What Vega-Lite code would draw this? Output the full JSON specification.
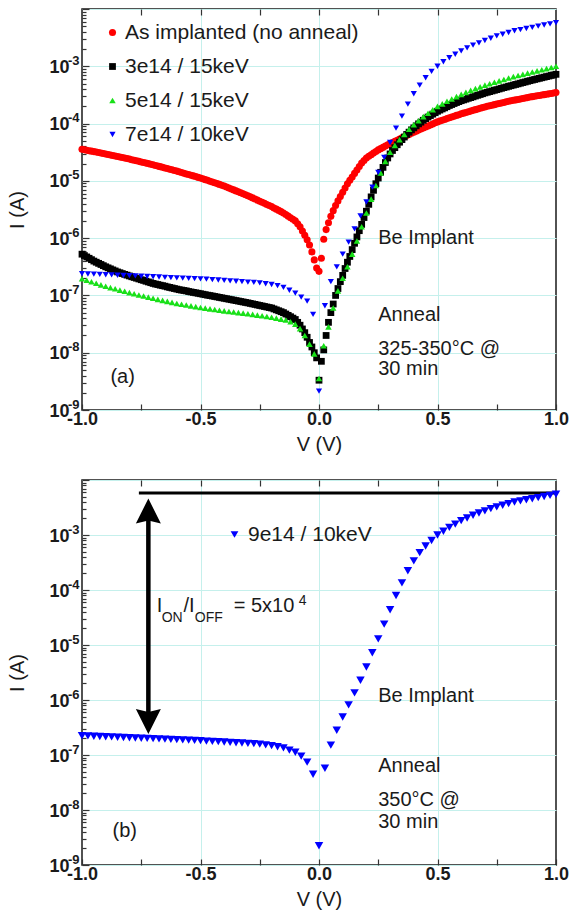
{
  "$schema": "https://vega.github.io/schema/vega-lite/v6.json",
  "background": "white",
  "padding": {"left": 7, "right": 10, "top": 0, "bottom": 4},
  "spacing": 16,
  "config": {
    "font": "Liberation Sans",
    "view": {"stroke": "#1a1a1a", "strokeWidth": 1.5},
    "axis": {
      "domain": false,
      "labelFont": "Liberation Sans",
      "labelFontWeight": "bold",
      "labelFontSize": 18,
      "labelColor": "#1a1a1a",
      "labelOverlap": false,
      "labelFlush": false,
      "titleFont": "Liberation Sans",
      "titleFontWeight": "normal",
      "titleFontSize": 20,
      "titleColor": "#1a1a1a",
      "tickColor": "#333333",
      "tickWidth": 1.2,
      "gridColor": "#c5f0ec",
      "gridWidth": 1
    },
    "legend": {"labelFont": "Liberation Sans", "labelFontSize": 21, "labelColor": "#1a1a1a", "labelLimit": 0},
    "text": {"font": "Liberation Sans", "fontSize": 20, "color": "#1a1a1a"}
  },
  "resolve": {
    "scale": {"color": "independent", "shape": "independent", "size": "independent"},
    "legend": {"color": "independent", "shape": "independent"}
  },
  "datasets": {
    "a": [
      {"s":"As implanted (no anneal)","V":-1,"I":3.55e-5},{"s":"As implanted (no anneal)","V":-0.99,"I":3.48e-5},{"s":"As implanted (no anneal)","V":-0.98,"I":3.42e-5},{"s":"As implanted (no anneal)","V":-0.97,"I":3.36e-5},{"s":"As implanted (no anneal)","V":-0.96,"I":3.30e-5},{"s":"As implanted (no anneal)","V":-0.95,"I":3.24e-5},{"s":"As implanted (no anneal)","V":-0.94,"I":3.18e-5},{"s":"As implanted (no anneal)","V":-0.93,"I":3.12e-5},{"s":"As implanted (no anneal)","V":-0.92,"I":3.06e-5},{"s":"As implanted (no anneal)","V":-0.91,"I":3.01e-5},
      {"s":"As implanted (no anneal)","V":-0.9,"I":2.95e-5},{"s":"As implanted (no anneal)","V":-0.89,"I":2.89e-5},{"s":"As implanted (no anneal)","V":-0.88,"I":2.83e-5},{"s":"As implanted (no anneal)","V":-0.87,"I":2.77e-5},{"s":"As implanted (no anneal)","V":-0.86,"I":2.72e-5},{"s":"As implanted (no anneal)","V":-0.85,"I":2.66e-5},{"s":"As implanted (no anneal)","V":-0.84,"I":2.61e-5},{"s":"As implanted (no anneal)","V":-0.83,"I":2.55e-5},{"s":"As implanted (no anneal)","V":-0.82,"I":2.50e-5},{"s":"As implanted (no anneal)","V":-0.81,"I":2.45e-5},
      {"s":"As implanted (no anneal)","V":-0.8,"I":2.40e-5},{"s":"As implanted (no anneal)","V":-0.79,"I":2.34e-5},{"s":"As implanted (no anneal)","V":-0.78,"I":2.29e-5},{"s":"As implanted (no anneal)","V":-0.77,"I":2.24e-5},{"s":"As implanted (no anneal)","V":-0.76,"I":2.19e-5},{"s":"As implanted (no anneal)","V":-0.75,"I":2.14e-5},{"s":"As implanted (no anneal)","V":-0.74,"I":2.09e-5},{"s":"As implanted (no anneal)","V":-0.73,"I":2.04e-5},{"s":"As implanted (no anneal)","V":-0.72,"I":2.00e-5},{"s":"As implanted (no anneal)","V":-0.71,"I":1.95e-5},
      {"s":"As implanted (no anneal)","V":-0.7,"I":1.91e-5},{"s":"As implanted (no anneal)","V":-0.69,"I":1.86e-5},{"s":"As implanted (no anneal)","V":-0.68,"I":1.81e-5},{"s":"As implanted (no anneal)","V":-0.67,"I":1.77e-5},{"s":"As implanted (no anneal)","V":-0.66,"I":1.72e-5},{"s":"As implanted (no anneal)","V":-0.65,"I":1.68e-5},{"s":"As implanted (no anneal)","V":-0.64,"I":1.64e-5},{"s":"As implanted (no anneal)","V":-0.63,"I":1.60e-5},{"s":"As implanted (no anneal)","V":-0.62,"I":1.56e-5},{"s":"As implanted (no anneal)","V":-0.61,"I":1.52e-5},
      {"s":"As implanted (no anneal)","V":-0.6,"I":1.48e-5},{"s":"As implanted (no anneal)","V":-0.59,"I":1.44e-5},{"s":"As implanted (no anneal)","V":-0.58,"I":1.40e-5},{"s":"As implanted (no anneal)","V":-0.57,"I":1.36e-5},{"s":"As implanted (no anneal)","V":-0.56,"I":1.32e-5},{"s":"As implanted (no anneal)","V":-0.55,"I":1.29e-5},{"s":"As implanted (no anneal)","V":-0.54,"I":1.25e-5},{"s":"As implanted (no anneal)","V":-0.53,"I":1.22e-5},{"s":"As implanted (no anneal)","V":-0.52,"I":1.19e-5},{"s":"As implanted (no anneal)","V":-0.51,"I":1.15e-5},
      {"s":"As implanted (no anneal)","V":-0.5,"I":1.12e-5},{"s":"As implanted (no anneal)","V":-0.49,"I":1.09e-5},{"s":"As implanted (no anneal)","V":-0.48,"I":1.05e-5},{"s":"As implanted (no anneal)","V":-0.47,"I":1.02e-5},{"s":"As implanted (no anneal)","V":-0.46,"I":9.86e-6},{"s":"As implanted (no anneal)","V":-0.45,"I":9.55e-6},{"s":"As implanted (no anneal)","V":-0.44,"I":9.25e-6},{"s":"As implanted (no anneal)","V":-0.43,"I":8.95e-6},{"s":"As implanted (no anneal)","V":-0.42,"I":8.67e-6},{"s":"As implanted (no anneal)","V":-0.41,"I":8.39e-6},
      {"s":"As implanted (no anneal)","V":-0.4,"I":8.13e-6},{"s":"As implanted (no anneal)","V":-0.39,"I":7.82e-6},{"s":"As implanted (no anneal)","V":-0.38,"I":7.52e-6},{"s":"As implanted (no anneal)","V":-0.37,"I":7.23e-6},{"s":"As implanted (no anneal)","V":-0.36,"I":6.95e-6},{"s":"As implanted (no anneal)","V":-0.35,"I":6.68e-6},{"s":"As implanted (no anneal)","V":-0.34,"I":6.43e-6},{"s":"As implanted (no anneal)","V":-0.33,"I":6.18e-6},{"s":"As implanted (no anneal)","V":-0.32,"I":5.94e-6},{"s":"As implanted (no anneal)","V":-0.31,"I":5.71e-6},
      {"s":"As implanted (no anneal)","V":-0.3,"I":5.50e-6},{"s":"As implanted (no anneal)","V":-0.29,"I":5.26e-6},{"s":"As implanted (no anneal)","V":-0.28,"I":5.04e-6},{"s":"As implanted (no anneal)","V":-0.27,"I":4.82e-6},{"s":"As implanted (no anneal)","V":-0.26,"I":4.61e-6},{"s":"As implanted (no anneal)","V":-0.25,"I":4.42e-6},{"s":"As implanted (no anneal)","V":-0.24,"I":4.23e-6},{"s":"As implanted (no anneal)","V":-0.23,"I":4.05e-6},{"s":"As implanted (no anneal)","V":-0.22,"I":3.87e-6},{"s":"As implanted (no anneal)","V":-0.21,"I":3.71e-6},
      {"s":"As implanted (no anneal)","V":-0.2,"I":3.55e-6},{"s":"As implanted (no anneal)","V":-0.19,"I":3.37e-6},{"s":"As implanted (no anneal)","V":-0.18,"I":3.21e-6},{"s":"As implanted (no anneal)","V":-0.17,"I":3.05e-6},{"s":"As implanted (no anneal)","V":-0.16,"I":2.90e-6},{"s":"As implanted (no anneal)","V":-0.15,"I":2.75e-6},{"s":"As implanted (no anneal)","V":-0.14,"I":2.58e-6},{"s":"As implanted (no anneal)","V":-0.13,"I":2.42e-6},{"s":"As implanted (no anneal)","V":-0.12,"I":2.27e-6},{"s":"As implanted (no anneal)","V":-0.11,"I":2.13e-6},
      {"s":"As implanted (no anneal)","V":-0.1,"I":2.00e-6},{"s":"As implanted (no anneal)","V":-0.09,"I":1.78e-6},{"s":"As implanted (no anneal)","V":-0.08,"I":1.58e-6},{"s":"As implanted (no anneal)","V":-0.07,"I":1.33e-6},{"s":"As implanted (no anneal)","V":-0.06,"I":1.12e-6},{"s":"As implanted (no anneal)","V":-0.05,"I":9.33e-7},{"s":"As implanted (no anneal)","V":-0.04,"I":7.59e-7},{"s":"As implanted (no anneal)","V":-0.03,"I":5.75e-7},{"s":"As implanted (no anneal)","V":-0.02,"I":4.17e-7},{"s":"As implanted (no anneal)","V":-0.01,"I":3.02e-7},
      {"s":"As implanted (no anneal)","V":0,"I":2.63e-7},{"s":"As implanted (no anneal)","V":0.01,"I":4.47e-7},{"s":"As implanted (no anneal)","V":0.02,"I":9.55e-7},{"s":"As implanted (no anneal)","V":0.03,"I":1.41e-6},{"s":"As implanted (no anneal)","V":0.04,"I":1.86e-6},{"s":"As implanted (no anneal)","V":0.05,"I":2.40e-6},{"s":"As implanted (no anneal)","V":0.06,"I":3.02e-6},{"s":"As implanted (no anneal)","V":0.07,"I":3.72e-6},{"s":"As implanted (no anneal)","V":0.08,"I":4.47e-6},{"s":"As implanted (no anneal)","V":0.09,"I":5.31e-6},
      {"s":"As implanted (no anneal)","V":0.1,"I":6.31e-6},{"s":"As implanted (no anneal)","V":0.11,"I":7.50e-6},{"s":"As implanted (no anneal)","V":0.12,"I":8.91e-6},{"s":"As implanted (no anneal)","V":0.13,"I":1.02e-5},{"s":"As implanted (no anneal)","V":0.14,"I":1.17e-5},{"s":"As implanted (no anneal)","V":0.15,"I":1.35e-5},{"s":"As implanted (no anneal)","V":0.16,"I":1.55e-5},{"s":"As implanted (no anneal)","V":0.17,"I":1.78e-5},{"s":"As implanted (no anneal)","V":0.18,"I":2.04e-5},{"s":"As implanted (no anneal)","V":0.19,"I":2.26e-5},
      {"s":"As implanted (no anneal)","V":0.2,"I":2.51e-5},{"s":"As implanted (no anneal)","V":0.21,"I":2.68e-5},{"s":"As implanted (no anneal)","V":0.22,"I":2.86e-5},{"s":"As implanted (no anneal)","V":0.23,"I":3.05e-5},{"s":"As implanted (no anneal)","V":0.24,"I":3.25e-5},{"s":"As implanted (no anneal)","V":0.25,"I":3.47e-5},{"s":"As implanted (no anneal)","V":0.26,"I":3.65e-5},{"s":"As implanted (no anneal)","V":0.27,"I":3.84e-5},{"s":"As implanted (no anneal)","V":0.28,"I":4.04e-5},{"s":"As implanted (no anneal)","V":0.29,"I":4.25e-5},
      {"s":"As implanted (no anneal)","V":0.3,"I":4.47e-5},{"s":"As implanted (no anneal)","V":0.31,"I":4.68e-5},{"s":"As implanted (no anneal)","V":0.32,"I":4.90e-5},{"s":"As implanted (no anneal)","V":0.33,"I":5.13e-5},{"s":"As implanted (no anneal)","V":0.34,"I":5.37e-5},{"s":"As implanted (no anneal)","V":0.35,"I":5.62e-5},{"s":"As implanted (no anneal)","V":0.36,"I":5.89e-5},{"s":"As implanted (no anneal)","V":0.37,"I":6.17e-5},{"s":"As implanted (no anneal)","V":0.38,"I":6.46e-5},{"s":"As implanted (no anneal)","V":0.39,"I":6.76e-5},
      {"s":"As implanted (no anneal)","V":0.4,"I":7.08e-5},{"s":"As implanted (no anneal)","V":0.41,"I":7.38e-5},{"s":"As implanted (no anneal)","V":0.42,"I":7.69e-5},{"s":"As implanted (no anneal)","V":0.43,"I":8.02e-5},{"s":"As implanted (no anneal)","V":0.44,"I":8.36e-5},{"s":"As implanted (no anneal)","V":0.45,"I":8.71e-5},{"s":"As implanted (no anneal)","V":0.46,"I":9.08e-5},{"s":"As implanted (no anneal)","V":0.47,"I":9.46e-5},{"s":"As implanted (no anneal)","V":0.48,"I":9.86e-5},{"s":"As implanted (no anneal)","V":0.49,"I":1.03e-4},
      {"s":"As implanted (no anneal)","V":0.5,"I":1.07e-4},{"s":"As implanted (no anneal)","V":0.51,"I":1.11e-4},{"s":"As implanted (no anneal)","V":0.52,"I":1.14e-4},{"s":"As implanted (no anneal)","V":0.53,"I":1.18e-4},{"s":"As implanted (no anneal)","V":0.54,"I":1.22e-4},{"s":"As implanted (no anneal)","V":0.55,"I":1.26e-4},{"s":"As implanted (no anneal)","V":0.56,"I":1.30e-4},{"s":"As implanted (no anneal)","V":0.57,"I":1.34e-4},{"s":"As implanted (no anneal)","V":0.58,"I":1.39e-4},{"s":"As implanted (no anneal)","V":0.59,"I":1.43e-4},
      {"s":"As implanted (no anneal)","V":0.6,"I":1.48e-4},{"s":"As implanted (no anneal)","V":0.61,"I":1.52e-4},{"s":"As implanted (no anneal)","V":0.62,"I":1.56e-4},{"s":"As implanted (no anneal)","V":0.63,"I":1.61e-4},{"s":"As implanted (no anneal)","V":0.64,"I":1.65e-4},{"s":"As implanted (no anneal)","V":0.65,"I":1.70e-4},{"s":"As implanted (no anneal)","V":0.66,"I":1.75e-4},{"s":"As implanted (no anneal)","V":0.67,"I":1.79e-4},{"s":"As implanted (no anneal)","V":0.68,"I":1.85e-4},{"s":"As implanted (no anneal)","V":0.69,"I":1.90e-4},
      {"s":"As implanted (no anneal)","V":0.7,"I":1.95e-4},{"s":"As implanted (no anneal)","V":0.71,"I":2.00e-4},{"s":"As implanted (no anneal)","V":0.72,"I":2.04e-4},{"s":"As implanted (no anneal)","V":0.73,"I":2.09e-4},{"s":"As implanted (no anneal)","V":0.74,"I":2.14e-4},{"s":"As implanted (no anneal)","V":0.75,"I":2.19e-4},{"s":"As implanted (no anneal)","V":0.76,"I":2.24e-4},{"s":"As implanted (no anneal)","V":0.77,"I":2.29e-4},{"s":"As implanted (no anneal)","V":0.78,"I":2.34e-4},{"s":"As implanted (no anneal)","V":0.79,"I":2.40e-4},
      {"s":"As implanted (no anneal)","V":0.8,"I":2.45e-4},{"s":"As implanted (no anneal)","V":0.81,"I":2.50e-4},{"s":"As implanted (no anneal)","V":0.82,"I":2.55e-4},{"s":"As implanted (no anneal)","V":0.83,"I":2.59e-4},{"s":"As implanted (no anneal)","V":0.84,"I":2.64e-4},{"s":"As implanted (no anneal)","V":0.85,"I":2.69e-4},{"s":"As implanted (no anneal)","V":0.86,"I":2.74e-4},{"s":"As implanted (no anneal)","V":0.87,"I":2.79e-4},{"s":"As implanted (no anneal)","V":0.88,"I":2.84e-4},{"s":"As implanted (no anneal)","V":0.89,"I":2.90e-4},
      {"s":"As implanted (no anneal)","V":0.9,"I":2.95e-4},{"s":"As implanted (no anneal)","V":0.91,"I":3.00e-4},{"s":"As implanted (no anneal)","V":0.92,"I":3.05e-4},{"s":"As implanted (no anneal)","V":0.93,"I":3.10e-4},{"s":"As implanted (no anneal)","V":0.94,"I":3.15e-4},{"s":"As implanted (no anneal)","V":0.95,"I":3.20e-4},{"s":"As implanted (no anneal)","V":0.96,"I":3.25e-4},{"s":"As implanted (no anneal)","V":0.97,"I":3.30e-4},{"s":"As implanted (no anneal)","V":0.98,"I":3.36e-4},{"s":"As implanted (no anneal)","V":0.99,"I":3.41e-4},
      {"s":"As implanted (no anneal)","V":1,"I":3.47e-4},

      {"s":"3e14 / 15keV","V":-1,"I":5.25e-7},{"s":"3e14 / 15keV","V":-0.99,"I":4.97e-7},{"s":"3e14 / 15keV","V":-0.98,"I":4.70e-7},{"s":"3e14 / 15keV","V":-0.97,"I":4.45e-7},{"s":"3e14 / 15keV","V":-0.96,"I":4.21e-7},{"s":"3e14 / 15keV","V":-0.95,"I":3.98e-7},{"s":"3e14 / 15keV","V":-0.94,"I":3.80e-7},{"s":"3e14 / 15keV","V":-0.93,"I":3.63e-7},{"s":"3e14 / 15keV","V":-0.92,"I":3.47e-7},{"s":"3e14 / 15keV","V":-0.91,"I":3.31e-7},
      {"s":"3e14 / 15keV","V":-0.9,"I":3.16e-7},{"s":"3e14 / 15keV","V":-0.89,"I":3.03e-7},{"s":"3e14 / 15keV","V":-0.88,"I":2.91e-7},{"s":"3e14 / 15keV","V":-0.87,"I":2.79e-7},{"s":"3e14 / 15keV","V":-0.86,"I":2.68e-7},{"s":"3e14 / 15keV","V":-0.85,"I":2.57e-7},{"s":"3e14 / 15keV","V":-0.84,"I":2.49e-7},{"s":"3e14 / 15keV","V":-0.83,"I":2.41e-7},{"s":"3e14 / 15keV","V":-0.82,"I":2.33e-7},{"s":"3e14 / 15keV","V":-0.81,"I":2.26e-7},
      {"s":"3e14 / 15keV","V":-0.8,"I":2.19e-7},{"s":"3e14 / 15keV","V":-0.79,"I":2.12e-7},{"s":"3e14 / 15keV","V":-0.78,"I":2.06e-7},{"s":"3e14 / 15keV","V":-0.77,"I":2.00e-7},{"s":"3e14 / 15keV","V":-0.76,"I":1.94e-7},{"s":"3e14 / 15keV","V":-0.75,"I":1.88e-7},{"s":"3e14 / 15keV","V":-0.74,"I":1.83e-7},{"s":"3e14 / 15keV","V":-0.73,"I":1.77e-7},{"s":"3e14 / 15keV","V":-0.72,"I":1.72e-7},{"s":"3e14 / 15keV","V":-0.71,"I":1.67e-7},
      {"s":"3e14 / 15keV","V":-0.7,"I":1.62e-7},{"s":"3e14 / 15keV","V":-0.69,"I":1.58e-7},{"s":"3e14 / 15keV","V":-0.68,"I":1.55e-7},{"s":"3e14 / 15keV","V":-0.67,"I":1.51e-7},{"s":"3e14 / 15keV","V":-0.66,"I":1.48e-7},{"s":"3e14 / 15keV","V":-0.65,"I":1.45e-7},{"s":"3e14 / 15keV","V":-0.64,"I":1.41e-7},{"s":"3e14 / 15keV","V":-0.63,"I":1.38e-7},{"s":"3e14 / 15keV","V":-0.62,"I":1.35e-7},{"s":"3e14 / 15keV","V":-0.61,"I":1.32e-7},
      {"s":"3e14 / 15keV","V":-0.6,"I":1.29e-7},{"s":"3e14 / 15keV","V":-0.59,"I":1.26e-7},{"s":"3e14 / 15keV","V":-0.58,"I":1.24e-7},{"s":"3e14 / 15keV","V":-0.57,"I":1.22e-7},{"s":"3e14 / 15keV","V":-0.56,"I":1.20e-7},{"s":"3e14 / 15keV","V":-0.55,"I":1.17e-7},{"s":"3e14 / 15keV","V":-0.54,"I":1.15e-7},{"s":"3e14 / 15keV","V":-0.53,"I":1.13e-7},{"s":"3e14 / 15keV","V":-0.52,"I":1.11e-7},{"s":"3e14 / 15keV","V":-0.51,"I":1.09e-7},
      {"s":"3e14 / 15keV","V":-0.5,"I":1.07e-7},{"s":"3e14 / 15keV","V":-0.49,"I":1.05e-7},{"s":"3e14 / 15keV","V":-0.48,"I":1.03e-7},{"s":"3e14 / 15keV","V":-0.47,"I":1.01e-7},{"s":"3e14 / 15keV","V":-0.46,"I":9.95e-8},{"s":"3e14 / 15keV","V":-0.45,"I":9.77e-8},{"s":"3e14 / 15keV","V":-0.44,"I":9.59e-8},{"s":"3e14 / 15keV","V":-0.43,"I":9.42e-8},{"s":"3e14 / 15keV","V":-0.42,"I":9.25e-8},{"s":"3e14 / 15keV","V":-0.41,"I":9.08e-8},
      {"s":"3e14 / 15keV","V":-0.4,"I":8.91e-8},{"s":"3e14 / 15keV","V":-0.39,"I":8.75e-8},{"s":"3e14 / 15keV","V":-0.38,"I":8.59e-8},{"s":"3e14 / 15keV","V":-0.37,"I":8.43e-8},{"s":"3e14 / 15keV","V":-0.36,"I":8.28e-8},{"s":"3e14 / 15keV","V":-0.35,"I":8.13e-8},{"s":"3e14 / 15keV","V":-0.34,"I":7.98e-8},{"s":"3e14 / 15keV","V":-0.33,"I":7.83e-8},{"s":"3e14 / 15keV","V":-0.32,"I":7.69e-8},{"s":"3e14 / 15keV","V":-0.31,"I":7.55e-8},
      {"s":"3e14 / 15keV","V":-0.3,"I":7.41e-8},{"s":"3e14 / 15keV","V":-0.29,"I":7.26e-8},{"s":"3e14 / 15keV","V":-0.28,"I":7.11e-8},{"s":"3e14 / 15keV","V":-0.27,"I":6.97e-8},{"s":"3e14 / 15keV","V":-0.26,"I":6.82e-8},{"s":"3e14 / 15keV","V":-0.25,"I":6.68e-8},{"s":"3e14 / 15keV","V":-0.24,"I":6.55e-8},{"s":"3e14 / 15keV","V":-0.23,"I":6.41e-8},{"s":"3e14 / 15keV","V":-0.22,"I":6.28e-8},{"s":"3e14 / 15keV","V":-0.21,"I":6.15e-8},
      {"s":"3e14 / 15keV","V":-0.2,"I":6.03e-8},{"s":"3e14 / 15keV","V":-0.19,"I":5.81e-8},{"s":"3e14 / 15keV","V":-0.18,"I":5.60e-8},{"s":"3e14 / 15keV","V":-0.17,"I":5.40e-8},{"s":"3e14 / 15keV","V":-0.16,"I":5.20e-8},{"s":"3e14 / 15keV","V":-0.15,"I":5.01e-8},{"s":"3e14 / 15keV","V":-0.14,"I":4.74e-8},{"s":"3e14 / 15keV","V":-0.13,"I":4.49e-8},{"s":"3e14 / 15keV","V":-0.12,"I":4.25e-8},{"s":"3e14 / 15keV","V":-0.11,"I":4.02e-8},
      {"s":"3e14 / 15keV","V":-0.1,"I":3.80e-8},{"s":"3e14 / 15keV","V":-0.09,"I":3.39e-8},{"s":"3e14 / 15keV","V":-0.08,"I":3.02e-8},{"s":"3e14 / 15keV","V":-0.07,"I":2.60e-8},{"s":"3e14 / 15keV","V":-0.06,"I":2.24e-8},{"s":"3e14 / 15keV","V":-0.05,"I":1.86e-8},{"s":"3e14 / 15keV","V":-0.04,"I":1.51e-8},{"s":"3e14 / 15keV","V":-0.03,"I":1.26e-8},{"s":"3e14 / 15keV","V":-0.02,"I":1.00e-8},{"s":"3e14 / 15keV","V":-0.01,"I":8.13e-9},
      {"s":"3e14 / 15keV","V":0,"I":3.31e-9},{"s":"3e14 / 15keV","V":0.01,"I":7.08e-9},{"s":"3e14 / 15keV","V":0.02,"I":1.12e-8},{"s":"3e14 / 15keV","V":0.03,"I":2.00e-8},{"s":"3e14 / 15keV","V":0.04,"I":3.39e-8},{"s":"3e14 / 15keV","V":0.05,"I":5.01e-8},{"s":"3e14 / 15keV","V":0.06,"I":7.08e-8},{"s":"3e14 / 15keV","V":0.07,"I":1.00e-7},{"s":"3e14 / 15keV","V":0.08,"I":1.32e-7},{"s":"3e14 / 15keV","V":0.09,"I":1.74e-7},
      {"s":"3e14 / 15keV","V":0.1,"I":2.24e-7},{"s":"3e14 / 15keV","V":0.11,"I":2.95e-7},{"s":"3e14 / 15keV","V":0.12,"I":3.80e-7},{"s":"3e14 / 15keV","V":0.13,"I":4.79e-7},{"s":"3e14 / 15keV","V":0.14,"I":6.31e-7},{"s":"3e14 / 15keV","V":0.15,"I":8.13e-7},{"s":"3e14 / 15keV","V":0.16,"I":1.05e-6},{"s":"3e14 / 15keV","V":0.17,"I":1.35e-6},{"s":"3e14 / 15keV","V":0.18,"I":1.74e-6},{"s":"3e14 / 15keV","V":0.19,"I":2.29e-6},
      {"s":"3e14 / 15keV","V":0.2,"I":2.95e-6},{"s":"3e14 / 15keV","V":0.21,"I":3.89e-6},{"s":"3e14 / 15keV","V":0.22,"I":5.25e-6},{"s":"3e14 / 15keV","V":0.23,"I":6.84e-6},{"s":"3e14 / 15keV","V":0.24,"I":8.91e-6},{"s":"3e14 / 15keV","V":0.25,"I":1.12e-5},{"s":"3e14 / 15keV","V":0.26,"I":1.41e-5},{"s":"3e14 / 15keV","V":0.27,"I":1.72e-5},{"s":"3e14 / 15keV","V":0.28,"I":2.09e-5},{"s":"3e14 / 15keV","V":0.29,"I":2.51e-5},
      {"s":"3e14 / 15keV","V":0.3,"I":2.95e-5},{"s":"3e14 / 15keV","V":0.31,"I":3.39e-5},{"s":"3e14 / 15keV","V":0.32,"I":3.80e-5},{"s":"3e14 / 15keV","V":0.33,"I":4.27e-5},{"s":"3e14 / 15keV","V":0.34,"I":4.73e-5},{"s":"3e14 / 15keV","V":0.35,"I":5.25e-5},{"s":"3e14 / 15keV","V":0.36,"I":5.82e-5},{"s":"3e14 / 15keV","V":0.37,"I":6.46e-5},{"s":"3e14 / 15keV","V":0.38,"I":7.08e-5},{"s":"3e14 / 15keV","V":0.39,"I":7.76e-5},
      {"s":"3e14 / 15keV","V":0.4,"I":8.41e-5},{"s":"3e14 / 15keV","V":0.41,"I":9.12e-5},{"s":"3e14 / 15keV","V":0.42,"I":9.89e-5},{"s":"3e14 / 15keV","V":0.43,"I":1.06e-4},{"s":"3e14 / 15keV","V":0.44,"I":1.14e-4},{"s":"3e14 / 15keV","V":0.45,"I":1.22e-4},{"s":"3e14 / 15keV","V":0.46,"I":1.30e-4},{"s":"3e14 / 15keV","V":0.47,"I":1.38e-4},{"s":"3e14 / 15keV","V":0.48,"I":1.46e-4},{"s":"3e14 / 15keV","V":0.49,"I":1.55e-4},
      {"s":"3e14 / 15keV","V":0.5,"I":1.64e-4},{"s":"3e14 / 15keV","V":0.51,"I":1.72e-4},{"s":"3e14 / 15keV","V":0.52,"I":1.80e-4},{"s":"3e14 / 15keV","V":0.53,"I":1.88e-4},{"s":"3e14 / 15keV","V":0.54,"I":1.97e-4},{"s":"3e14 / 15keV","V":0.55,"I":2.07e-4},{"s":"3e14 / 15keV","V":0.56,"I":2.15e-4},{"s":"3e14 / 15keV","V":0.57,"I":2.24e-4},{"s":"3e14 / 15keV","V":0.58,"I":2.33e-4},{"s":"3e14 / 15keV","V":0.59,"I":2.42e-4},
      {"s":"3e14 / 15keV","V":0.6,"I":2.51e-4},{"s":"3e14 / 15keV","V":0.61,"I":2.59e-4},{"s":"3e14 / 15keV","V":0.62,"I":2.67e-4},{"s":"3e14 / 15keV","V":0.63,"I":2.76e-4},{"s":"3e14 / 15keV","V":0.64,"I":2.84e-4},{"s":"3e14 / 15keV","V":0.65,"I":2.93e-4},{"s":"3e14 / 15keV","V":0.66,"I":3.03e-4},{"s":"3e14 / 15keV","V":0.67,"I":3.12e-4},{"s":"3e14 / 15keV","V":0.68,"I":3.22e-4},{"s":"3e14 / 15keV","V":0.69,"I":3.32e-4},
      {"s":"3e14 / 15keV","V":0.7,"I":3.43e-4},{"s":"3e14 / 15keV","V":0.71,"I":3.52e-4},{"s":"3e14 / 15keV","V":0.72,"I":3.61e-4},{"s":"3e14 / 15keV","V":0.73,"I":3.71e-4},{"s":"3e14 / 15keV","V":0.74,"I":3.81e-4},{"s":"3e14 / 15keV","V":0.75,"I":3.91e-4},{"s":"3e14 / 15keV","V":0.76,"I":4.02e-4},{"s":"3e14 / 15keV","V":0.77,"I":4.13e-4},{"s":"3e14 / 15keV","V":0.78,"I":4.24e-4},{"s":"3e14 / 15keV","V":0.79,"I":4.35e-4},
      {"s":"3e14 / 15keV","V":0.8,"I":4.47e-4},{"s":"3e14 / 15keV","V":0.81,"I":4.58e-4},{"s":"3e14 / 15keV","V":0.82,"I":4.70e-4},{"s":"3e14 / 15keV","V":0.83,"I":4.82e-4},{"s":"3e14 / 15keV","V":0.84,"I":4.94e-4},{"s":"3e14 / 15keV","V":0.85,"I":5.07e-4},{"s":"3e14 / 15keV","V":0.86,"I":5.20e-4},{"s":"3e14 / 15keV","V":0.87,"I":5.33e-4},{"s":"3e14 / 15keV","V":0.88,"I":5.47e-4},{"s":"3e14 / 15keV","V":0.89,"I":5.61e-4},
      {"s":"3e14 / 15keV","V":0.9,"I":5.75e-4},{"s":"3e14 / 15keV","V":0.91,"I":5.89e-4},{"s":"3e14 / 15keV","V":0.92,"I":6.03e-4},{"s":"3e14 / 15keV","V":0.93,"I":6.17e-4},{"s":"3e14 / 15keV","V":0.94,"I":6.31e-4},{"s":"3e14 / 15keV","V":0.95,"I":6.46e-4},{"s":"3e14 / 15keV","V":0.96,"I":6.61e-4},{"s":"3e14 / 15keV","V":0.97,"I":6.76e-4},{"s":"3e14 / 15keV","V":0.98,"I":6.92e-4},{"s":"3e14 / 15keV","V":0.99,"I":7.08e-4},
      {"s":"3e14 / 15keV","V":1,"I":7.24e-4},

      {"s":"5e14 / 15keV","V":-1,"I":1.95e-7},{"s":"5e14 / 15keV","V":-0.98,"I":1.84e-7},{"s":"5e14 / 15keV","V":-0.96,"I":1.73e-7},{"s":"5e14 / 15keV","V":-0.94,"I":1.63e-7},{"s":"5e14 / 15keV","V":-0.92,"I":1.53e-7},{"s":"5e14 / 15keV","V":-0.9,"I":1.45e-7},{"s":"5e14 / 15keV","V":-0.88,"I":1.37e-7},{"s":"5e14 / 15keV","V":-0.86,"I":1.31e-7},{"s":"5e14 / 15keV","V":-0.84,"I":1.24e-7},{"s":"5e14 / 15keV","V":-0.82,"I":1.18e-7},
      {"s":"5e14 / 15keV","V":-0.8,"I":1.12e-7},{"s":"5e14 / 15keV","V":-0.78,"I":1.07e-7},{"s":"5e14 / 15keV","V":-0.76,"I":1.02e-7},{"s":"5e14 / 15keV","V":-0.74,"I":9.77e-8},{"s":"5e14 / 15keV","V":-0.72,"I":9.33e-8},{"s":"5e14 / 15keV","V":-0.7,"I":8.91e-8},{"s":"5e14 / 15keV","V":-0.68,"I":8.55e-8},{"s":"5e14 / 15keV","V":-0.66,"I":8.20e-8},{"s":"5e14 / 15keV","V":-0.64,"I":7.87e-8},{"s":"5e14 / 15keV","V":-0.62,"I":7.55e-8},
      {"s":"5e14 / 15keV","V":-0.6,"I":7.24e-8},{"s":"5e14 / 15keV","V":-0.58,"I":7.01e-8},{"s":"5e14 / 15keV","V":-0.56,"I":6.79e-8},{"s":"5e14 / 15keV","V":-0.54,"I":6.58e-8},{"s":"5e14 / 15keV","V":-0.52,"I":6.37e-8},{"s":"5e14 / 15keV","V":-0.5,"I":6.17e-8},{"s":"5e14 / 15keV","V":-0.48,"I":6.00e-8},{"s":"5e14 / 15keV","V":-0.46,"I":5.83e-8},{"s":"5e14 / 15keV","V":-0.44,"I":5.68e-8},{"s":"5e14 / 15keV","V":-0.42,"I":5.52e-8},
      {"s":"5e14 / 15keV","V":-0.4,"I":5.37e-8},{"s":"5e14 / 15keV","V":-0.38,"I":5.25e-8},{"s":"5e14 / 15keV","V":-0.36,"I":5.13e-8},{"s":"5e14 / 15keV","V":-0.34,"I":5.01e-8},{"s":"5e14 / 15keV","V":-0.32,"I":4.90e-8},{"s":"5e14 / 15keV","V":-0.3,"I":4.79e-8},{"s":"5e14 / 15keV","V":-0.28,"I":4.66e-8},{"s":"5e14 / 15keV","V":-0.26,"I":4.53e-8},{"s":"5e14 / 15keV","V":-0.24,"I":4.41e-8},{"s":"5e14 / 15keV","V":-0.22,"I":4.29e-8},
      {"s":"5e14 / 15keV","V":-0.2,"I":4.17e-8},{"s":"5e14 / 15keV","V":-0.18,"I":4.01e-8},{"s":"5e14 / 15keV","V":-0.16,"I":3.86e-8},{"s":"5e14 / 15keV","V":-0.14,"I":3.72e-8},{"s":"5e14 / 15keV","V":-0.12,"I":3.47e-8},{"s":"5e14 / 15keV","V":-0.1,"I":3.16e-8},{"s":"5e14 / 15keV","V":-0.08,"I":2.63e-8},{"s":"5e14 / 15keV","V":-0.06,"I":2.00e-8},{"s":"5e14 / 15keV","V":-0.04,"I":1.41e-8},{"s":"5e14 / 15keV","V":-0.02,"I":9.55e-9},
      {"s":"5e14 / 15keV","V":0,"I":3.55e-9},{"s":"5e14 / 15keV","V":0.02,"I":1.32e-8},{"s":"5e14 / 15keV","V":0.04,"I":2.82e-8},{"s":"5e14 / 15keV","V":0.06,"I":6.03e-8},{"s":"5e14 / 15keV","V":0.08,"I":1.20e-7},{"s":"5e14 / 15keV","V":0.1,"I":2.00e-7},{"s":"5e14 / 15keV","V":0.12,"I":3.16e-7},{"s":"5e14 / 15keV","V":0.14,"I":5.25e-7},{"s":"5e14 / 15keV","V":0.16,"I":8.91e-7},{"s":"5e14 / 15keV","V":0.18,"I":1.58e-6},
      {"s":"5e14 / 15keV","V":0.2,"I":2.75e-6},{"s":"5e14 / 15keV","V":0.22,"I":4.79e-6},{"s":"5e14 / 15keV","V":0.24,"I":8.32e-6},{"s":"5e14 / 15keV","V":0.26,"I":1.38e-5},{"s":"5e14 / 15keV","V":0.28,"I":2.19e-5},{"s":"5e14 / 15keV","V":0.3,"I":3.16e-5},{"s":"5e14 / 15keV","V":0.32,"I":4.17e-5},{"s":"5e14 / 15keV","V":0.34,"I":5.25e-5},{"s":"5e14 / 15keV","V":0.36,"I":6.46e-5},{"s":"5e14 / 15keV","V":0.38,"I":7.94e-5},
      {"s":"5e14 / 15keV","V":0.4,"I":9.55e-5},{"s":"5e14 / 15keV","V":0.42,"I":1.12e-4},{"s":"5e14 / 15keV","V":0.44,"I":1.32e-4},{"s":"5e14 / 15keV","V":0.46,"I":1.51e-4},{"s":"5e14 / 15keV","V":0.48,"I":1.74e-4},{"s":"5e14 / 15keV","V":0.5,"I":2.00e-4},{"s":"5e14 / 15keV","V":0.52,"I":2.21e-4},{"s":"5e14 / 15keV","V":0.54,"I":2.45e-4},{"s":"5e14 / 15keV","V":0.56,"I":2.69e-4},{"s":"5e14 / 15keV","V":0.58,"I":2.95e-4},
      {"s":"5e14 / 15keV","V":0.6,"I":3.24e-4},{"s":"5e14 / 15keV","V":0.62,"I":3.51e-4},{"s":"5e14 / 15keV","V":0.64,"I":3.80e-4},{"s":"5e14 / 15keV","V":0.66,"I":4.07e-4},{"s":"5e14 / 15keV","V":0.68,"I":4.37e-4},{"s":"5e14 / 15keV","V":0.7,"I":4.68e-4},{"s":"5e14 / 15keV","V":0.72,"I":4.95e-4},{"s":"5e14 / 15keV","V":0.74,"I":5.25e-4},{"s":"5e14 / 15keV","V":0.76,"I":5.56e-4},{"s":"5e14 / 15keV","V":0.78,"I":5.89e-4},
      {"s":"5e14 / 15keV","V":0.8,"I":6.24e-4},{"s":"5e14 / 15keV","V":0.82,"I":6.61e-4},{"s":"5e14 / 15keV","V":0.84,"I":6.92e-4},{"s":"5e14 / 15keV","V":0.86,"I":7.24e-4},{"s":"5e14 / 15keV","V":0.88,"I":7.59e-4},{"s":"5e14 / 15keV","V":0.9,"I":7.94e-4},{"s":"5e14 / 15keV","V":0.92,"I":8.32e-4},{"s":"5e14 / 15keV","V":0.94,"I":8.71e-4},{"s":"5e14 / 15keV","V":0.96,"I":9.12e-4},{"s":"5e14 / 15keV","V":0.98,"I":9.55e-4},
      {"s":"5e14 / 15keV","V":1,"I":1.00e-3},

      {"s":"7e14 / 10keV","V":-1,"I":2.40e-7},{"s":"7e14 / 10keV","V":-0.975,"I":2.37e-7},{"s":"7e14 / 10keV","V":-0.95,"I":2.35e-7},{"s":"7e14 / 10keV","V":-0.925,"I":2.33e-7},{"s":"7e14 / 10keV","V":-0.9,"I":2.30e-7},{"s":"7e14 / 10keV","V":-0.875,"I":2.28e-7},{"s":"7e14 / 10keV","V":-0.85,"I":2.25e-7},{"s":"7e14 / 10keV","V":-0.825,"I":2.23e-7},{"s":"7e14 / 10keV","V":-0.8,"I":2.21e-7},{"s":"7e14 / 10keV","V":-0.775,"I":2.19e-7},
      {"s":"7e14 / 10keV","V":-0.75,"I":2.16e-7},{"s":"7e14 / 10keV","V":-0.725,"I":2.14e-7},{"s":"7e14 / 10keV","V":-0.7,"I":2.12e-7},{"s":"7e14 / 10keV","V":-0.675,"I":2.10e-7},{"s":"7e14 / 10keV","V":-0.65,"I":2.07e-7},{"s":"7e14 / 10keV","V":-0.625,"I":2.05e-7},{"s":"7e14 / 10keV","V":-0.6,"I":2.03e-7},{"s":"7e14 / 10keV","V":-0.575,"I":2.01e-7},{"s":"7e14 / 10keV","V":-0.55,"I":1.99e-7},{"s":"7e14 / 10keV","V":-0.525,"I":1.97e-7},
      {"s":"7e14 / 10keV","V":-0.5,"I":1.95e-7},{"s":"7e14 / 10keV","V":-0.475,"I":1.92e-7},{"s":"7e14 / 10keV","V":-0.45,"I":1.89e-7},{"s":"7e14 / 10keV","V":-0.425,"I":1.86e-7},{"s":"7e14 / 10keV","V":-0.4,"I":1.83e-7},{"s":"7e14 / 10keV","V":-0.375,"I":1.80e-7},{"s":"7e14 / 10keV","V":-0.35,"I":1.77e-7},{"s":"7e14 / 10keV","V":-0.325,"I":1.74e-7},{"s":"7e14 / 10keV","V":-0.3,"I":1.71e-7},{"s":"7e14 / 10keV","V":-0.275,"I":1.69e-7},
      {"s":"7e14 / 10keV","V":-0.25,"I":1.66e-7},{"s":"7e14 / 10keV","V":-0.225,"I":1.60e-7},{"s":"7e14 / 10keV","V":-0.2,"I":1.55e-7},{"s":"7e14 / 10keV","V":-0.175,"I":1.48e-7},{"s":"7e14 / 10keV","V":-0.15,"I":1.38e-7},{"s":"7e14 / 10keV","V":-0.125,"I":1.23e-7},{"s":"7e14 / 10keV","V":-0.1,"I":1.10e-7},{"s":"7e14 / 10keV","V":-0.075,"I":9.33e-8},{"s":"7e14 / 10keV","V":-0.05,"I":7.94e-8},{"s":"7e14 / 10keV","V":-0.025,"I":4.68e-8},
      {"s":"7e14 / 10keV","V":0,"I":2.14e-9},{"s":"7e14 / 10keV","V":0.025,"I":6.61e-8},{"s":"7e14 / 10keV","V":0.05,"I":1.74e-7},{"s":"7e14 / 10keV","V":0.075,"I":3.16e-7},{"s":"7e14 / 10keV","V":0.1,"I":5.25e-7},{"s":"7e14 / 10keV","V":0.125,"I":8.51e-7},{"s":"7e14 / 10keV","V":0.15,"I":1.45e-6},{"s":"7e14 / 10keV","V":0.175,"I":2.45e-6},{"s":"7e14 / 10keV","V":0.2,"I":4.27e-6},{"s":"7e14 / 10keV","V":0.225,"I":7.76e-6},
      {"s":"7e14 / 10keV","V":0.25,"I":1.41e-5},{"s":"7e14 / 10keV","V":0.275,"I":2.57e-5},{"s":"7e14 / 10keV","V":0.3,"I":4.68e-5},{"s":"7e14 / 10keV","V":0.325,"I":8.32e-5},{"s":"7e14 / 10keV","V":0.35,"I":1.35e-4},{"s":"7e14 / 10keV","V":0.375,"I":2.19e-4},{"s":"7e14 / 10keV","V":0.4,"I":3.31e-4},{"s":"7e14 / 10keV","V":0.425,"I":4.68e-4},{"s":"7e14 / 10keV","V":0.45,"I":6.31e-4},{"s":"7e14 / 10keV","V":0.475,"I":8.13e-4},
      {"s":"7e14 / 10keV","V":0.5,"I":1.00e-3},{"s":"7e14 / 10keV","V":0.525,"I":1.20e-3},{"s":"7e14 / 10keV","V":0.55,"I":1.41e-3},{"s":"7e14 / 10keV","V":0.575,"I":1.62e-3},{"s":"7e14 / 10keV","V":0.6,"I":1.86e-3},{"s":"7e14 / 10keV","V":0.625,"I":2.09e-3},{"s":"7e14 / 10keV","V":0.65,"I":2.34e-3},{"s":"7e14 / 10keV","V":0.675,"I":2.57e-3},{"s":"7e14 / 10keV","V":0.7,"I":2.82e-3},{"s":"7e14 / 10keV","V":0.725,"I":3.09e-3},
      {"s":"7e14 / 10keV","V":0.75,"I":3.39e-3},{"s":"7e14 / 10keV","V":0.775,"I":3.63e-3},{"s":"7e14 / 10keV","V":0.8,"I":3.89e-3},{"s":"7e14 / 10keV","V":0.825,"I":4.17e-3},{"s":"7e14 / 10keV","V":0.85,"I":4.37e-3},{"s":"7e14 / 10keV","V":0.875,"I":4.57e-3},{"s":"7e14 / 10keV","V":0.9,"I":4.79e-3},{"s":"7e14 / 10keV","V":0.925,"I":5.01e-3},{"s":"7e14 / 10keV","V":0.95,"I":5.25e-3},{"s":"7e14 / 10keV","V":0.975,"I":5.50e-3},
      {"s":"7e14 / 10keV","V":1,"I":5.75e-3}
    ],
    "b": [
      {"s":"9e14 / 10keV","V":-1,"I":2.24e-7},{"s":"9e14 / 10keV","V":-0.975,"I":2.22e-7},{"s":"9e14 / 10keV","V":-0.95,"I":2.19e-7},{"s":"9e14 / 10keV","V":-0.925,"I":2.17e-7},{"s":"9e14 / 10keV","V":-0.9,"I":2.15e-7},{"s":"9e14 / 10keV","V":-0.875,"I":2.13e-7},{"s":"9e14 / 10keV","V":-0.85,"I":2.10e-7},{"s":"9e14 / 10keV","V":-0.825,"I":2.08e-7},{"s":"9e14 / 10keV","V":-0.8,"I":2.06e-7},{"s":"9e14 / 10keV","V":-0.775,"I":2.04e-7},
      {"s":"9e14 / 10keV","V":-0.75,"I":2.02e-7},{"s":"9e14 / 10keV","V":-0.725,"I":2.00e-7},{"s":"9e14 / 10keV","V":-0.7,"I":1.98e-7},{"s":"9e14 / 10keV","V":-0.675,"I":1.96e-7},{"s":"9e14 / 10keV","V":-0.65,"I":1.94e-7},{"s":"9e14 / 10keV","V":-0.625,"I":1.92e-7},{"s":"9e14 / 10keV","V":-0.6,"I":1.90e-7},{"s":"9e14 / 10keV","V":-0.575,"I":1.88e-7},{"s":"9e14 / 10keV","V":-0.55,"I":1.86e-7},{"s":"9e14 / 10keV","V":-0.525,"I":1.84e-7},
      {"s":"9e14 / 10keV","V":-0.5,"I":1.82e-7},{"s":"9e14 / 10keV","V":-0.475,"I":1.79e-7},{"s":"9e14 / 10keV","V":-0.45,"I":1.77e-7},{"s":"9e14 / 10keV","V":-0.425,"I":1.75e-7},{"s":"9e14 / 10keV","V":-0.4,"I":1.72e-7},{"s":"9e14 / 10keV","V":-0.375,"I":1.70e-7},{"s":"9e14 / 10keV","V":-0.35,"I":1.67e-7},{"s":"9e14 / 10keV","V":-0.325,"I":1.65e-7},{"s":"9e14 / 10keV","V":-0.3,"I":1.63e-7},{"s":"9e14 / 10keV","V":-0.275,"I":1.61e-7},
      {"s":"9e14 / 10keV","V":-0.25,"I":1.58e-7},{"s":"9e14 / 10keV","V":-0.225,"I":1.53e-7},{"s":"9e14 / 10keV","V":-0.2,"I":1.48e-7},{"s":"9e14 / 10keV","V":-0.175,"I":1.41e-7},{"s":"9e14 / 10keV","V":-0.15,"I":1.35e-7},{"s":"9e14 / 10keV","V":-0.125,"I":1.23e-7},{"s":"9e14 / 10keV","V":-0.1,"I":1.12e-7},{"s":"9e14 / 10keV","V":-0.075,"I":9.55e-8},{"s":"9e14 / 10keV","V":-0.05,"I":7.41e-8},{"s":"9e14 / 10keV","V":-0.025,"I":4.47e-8},
      {"s":"9e14 / 10keV","V":0,"I":2.24e-9},{"s":"9e14 / 10keV","V":0.025,"I":5.75e-8},{"s":"9e14 / 10keV","V":0.05,"I":1.51e-7},{"s":"9e14 / 10keV","V":0.075,"I":2.82e-7},{"s":"9e14 / 10keV","V":0.1,"I":4.90e-7},{"s":"9e14 / 10keV","V":0.125,"I":8.13e-7},{"s":"9e14 / 10keV","V":0.15,"I":1.35e-6},{"s":"9e14 / 10keV","V":0.175,"I":2.29e-6},{"s":"9e14 / 10keV","V":0.2,"I":3.98e-6},{"s":"9e14 / 10keV","V":0.225,"I":7.24e-6},
      {"s":"9e14 / 10keV","V":0.25,"I":1.29e-5},{"s":"9e14 / 10keV","V":0.275,"I":2.40e-5},{"s":"9e14 / 10keV","V":0.3,"I":4.37e-5},{"s":"9e14 / 10keV","V":0.325,"I":7.94e-5},{"s":"9e14 / 10keV","V":0.35,"I":1.35e-4},{"s":"9e14 / 10keV","V":0.375,"I":2.24e-4},{"s":"9e14 / 10keV","V":0.4,"I":3.39e-4},{"s":"9e14 / 10keV","V":0.425,"I":4.79e-4},{"s":"9e14 / 10keV","V":0.45,"I":6.31e-4},{"s":"9e14 / 10keV","V":0.475,"I":7.94e-4},
      {"s":"9e14 / 10keV","V":0.5,"I":1.00e-3},{"s":"9e14 / 10keV","V":0.525,"I":1.17e-3},{"s":"9e14 / 10keV","V":0.55,"I":1.38e-3},{"s":"9e14 / 10keV","V":0.575,"I":1.58e-3},{"s":"9e14 / 10keV","V":0.6,"I":1.82e-3},{"s":"9e14 / 10keV","V":0.625,"I":2.04e-3},{"s":"9e14 / 10keV","V":0.65,"I":2.29e-3},{"s":"9e14 / 10keV","V":0.675,"I":2.51e-3},{"s":"9e14 / 10keV","V":0.7,"I":2.75e-3},{"s":"9e14 / 10keV","V":0.725,"I":3.02e-3},
      {"s":"9e14 / 10keV","V":0.75,"I":3.24e-3},{"s":"9e14 / 10keV","V":0.775,"I":3.47e-3},{"s":"9e14 / 10keV","V":0.8,"I":3.72e-3},{"s":"9e14 / 10keV","V":0.825,"I":3.98e-3},{"s":"9e14 / 10keV","V":0.85,"I":4.17e-3},{"s":"9e14 / 10keV","V":0.875,"I":4.37e-3},{"s":"9e14 / 10keV","V":0.9,"I":4.57e-3},{"s":"9e14 / 10keV","V":0.925,"I":4.79e-3},{"s":"9e14 / 10keV","V":0.95,"I":5.01e-3},{"s":"9e14 / 10keV","V":0.975,"I":5.25e-3},
      {"s":"9e14 / 10keV","V":1,"I":5.50e-3}
    ],
    "notesA": [
      {"V":0.25,"I":7.9e-7,"t":"Be Implant"},
      {"V":0.25,"I":3.57e-8,"t":"Anneal"},
      {"V":0.25,"I":9.1e-9,"t":"325-350°C @"},
      {"V":0.25,"I":4.1e-9,"t":"30 min"},
      {"V":-0.88,"I":2.95e-9,"t":"(a)"}
    ],
    "notesB": [
      {"V":0.25,"I":9.3e-7,"t":"Be Implant"},
      {"V":0.25,"I":5.0e-8,"t":"Anneal"},
      {"V":0.25,"I":1.18e-8,"t":"350°C @"},
      {"V":0.25,"I":4.8e-9,"t":"30 min"},
      {"V":-0.871,"I":3.2e-9,"t":"(b)"},
      {"V":-0.685,"I":3.9e-5,"t":"I"},
      {"V":-0.572,"I":3.9e-5,"t":"/I"},
      {"V":-0.36,"I":3.9e-5,"t":"= 5x10"}
    ],
    "ratioSub": [
      {"V":-0.664,"I":2.6e-5,"t":"ON"},
      {"V":-0.524,"I":2.6e-5,"t":"OFF"}
    ],
    "ratioSup": [
      {"V":-0.085,"I":5.4e-5,"t":"4"}
    ],
    "onLevel": [{"V0":-0.76,"V1":1,"I":5.8e-3}],
    "arrow": [{"V":-0.72,"Itop":2.73e-3,"Ibot":4.07e-7}]
  },
  "vconcat": [
    {
      "width": 474,
      "height": 401,
      "layer": [
        {
          "data": {"name": "a"},
          "mark": {"type": "point", "filled": true, "opacity": 1},
          "encoding": {
            "x": {"field": "V", "type": "quantitative", "scale": {"domain": [-1, 1], "nice": false, "zero": false},
              "axis": {"title": "V (V)", "values": [-1, -0.75, -0.5, -0.25, 0, 0.25, 0.5, 0.75, 1],
                "labelExpr": "abs(datum.value*2 - round(datum.value*2)) < 0.001 ? replace(format(datum.value, '.1f'), '\u2212', '-') : ''",
                "tickSize": -6, "grid": true,
                "gridOpacity": {"condition": {"test": "abs(datum.value) < 0.9 && abs(datum.value*2 - round(datum.value*2)) < 0.001", "value": 1}, "value": 0},
                "labelPadding": 6, "titlePadding": 6}},
            "y": {"field": "I", "type": "quantitative", "scale": {"type": "log", "domain": [1e-9, 0.01], "nice": false},
              "axis": {"orient": "left", "title": "I (A)",
                "values": [1e-9,2e-9,3e-9,4e-9,5e-9,6e-9,7e-9,8e-9,9e-9,1e-8,2e-8,3e-8,4e-8,5e-8,6e-8,7e-8,8e-8,9e-8,1e-7,2e-7,3e-7,4e-7,5e-7,6e-7,7e-7,8e-7,9e-7,1e-6,2e-6,3e-6,4e-6,5e-6,6e-6,7e-6,8e-6,9e-6,1e-5,2e-5,3e-5,4e-5,5e-5,6e-5,7e-5,8e-5,9e-5,1e-4,2e-4,3e-4,4e-4,5e-4,6e-4,7e-4,8e-4,9e-4,1e-3,2e-3,3e-3,4e-3,5e-3,6e-3,7e-3,8e-3,9e-3,1e-2],
                "labelExpr": "abs(log(datum.value)/LN10 - round(log(datum.value)/LN10)) < 0.001 && datum.value < 0.005 ? '10' : ''",
                "labelOffset": 1,
                "tickSize": {"condition": {"test": "abs(log(datum.value)/LN10 - round(log(datum.value)/LN10)) < 0.001", "value": -7}, "value": -4},
                "grid": true,
                "gridOpacity": {"condition": {"test": "abs(log(datum.value)/LN10 - round(log(datum.value)/LN10)) < 0.001", "value": 1}, "value": 0},
                "labelPadding": 20, "titlePadding": 21}},
            "color": {"field": "s", "type": "nominal",
              "scale": {"domain": ["As implanted (no anneal)", "3e14 / 15keV", "5e14 / 15keV", "7e14 / 10keV"], "range": ["#ff0000", "#000000", "#18e018", "#0000ff"]},
              "legend": {"title": null, "orient": "none", "legendX": 20, "legendY": 13, "padding": 0, "symbolSize": 60, "rowPadding": 12, "labelOffset": 2, "symbolStrokeWidth": 0}},
            "shape": {"field": "s", "type": "nominal",
              "scale": {"domain": ["As implanted (no anneal)", "3e14 / 15keV", "5e14 / 15keV", "7e14 / 10keV"], "range": ["circle", "square", "triangle-up", "triangle-down"]},
              "legend": {"title": null, "orient": "none", "legendX": 20, "legendY": 13, "padding": 0, "symbolSize": 60, "rowPadding": 12, "labelOffset": 2, "symbolStrokeWidth": 0}},
            "size": {"field": "s", "type": "ordinal",
              "scale": {"domain": ["As implanted (no anneal)", "3e14 / 15keV", "5e14 / 15keV", "7e14 / 10keV"], "range": [50, 38, 62, 72]},
              "legend": null}
          }
        },
        {
          "data": {"name": "notesA"},
          "mark": {"type": "text", "align": "left", "baseline": "alphabetic", "fontSize": 20},
          "encoding": {
            "x": {"field": "V", "type": "quantitative", "scale": {"domain": [-1, 1], "nice": false, "zero": false},
              "axis": {"orient": "top", "values": [-0.75, -0.5, -0.25, 0, 0.25, 0.5, 0.75], "labels": false, "title": null, "tickSize": -6, "grid": false}},
            "y": {"field": "I", "type": "quantitative", "scale": {"type": "log", "domain": [1e-9, 0.01], "nice": false},
              "axis": {"orient": "left", "title": null, "ticks": false, "grid": false,
                "values": [1e-9,1e-8,1e-7,1e-6,1e-5,1e-4,1e-3],
                "labelExpr": "'-' + (-round(log(datum.value)/LN10))",
                "labelFontSize": 13, "labelPadding": 3, "labelOffset": -6}},
            "text": {"field": "t"}
          }
        }
      ],
      "resolve": {"axis": {"x": "independent", "y": "independent"}}
    },
    {
      "width": 474,
      "height": 385,
      "layer": [
        {
          "data": {"name": "onLevel"},
          "mark": {"type": "rule", "color": "#000000", "strokeWidth": 3},
          "encoding": {
            "x": {"field": "V0", "type": "quantitative", "scale": {"domain": [-1, 1], "nice": false, "zero": false},
              "axis": {"orient": "top", "values": [-0.75, -0.5, -0.25, 0, 0.25, 0.5, 0.75], "labels": false, "title": null, "tickSize": -6, "grid": false}},
            "x2": {"field": "V1"},
            "y": {"field": "I", "type": "quantitative", "scale": {"type": "log", "domain": [1e-9, 0.01], "nice": false},
              "axis": {"orient": "left", "title": null, "ticks": false, "grid": false,
                "values": [1e-9,1e-8,1e-7,1e-6,1e-5,1e-4,1e-3],
                "labelExpr": "'-' + (-round(log(datum.value)/LN10))",
                "labelFontSize": 13, "labelPadding": 3, "labelOffset": -6}}
          }
        },
        {
          "data": {"name": "b"},
          "mark": {"type": "point", "filled": true, "opacity": 1, "size": 72},
          "encoding": {
            "x": {"field": "V", "type": "quantitative", "scale": {"domain": [-1, 1], "nice": false, "zero": false},
              "axis": {"title": "V (V)", "values": [-1, -0.75, -0.5, -0.25, 0, 0.25, 0.5, 0.75, 1],
                "labelExpr": "abs(datum.value*2 - round(datum.value*2)) < 0.001 ? replace(format(datum.value, '.1f'), '\u2212', '-') : ''",
                "tickSize": -6, "grid": true,
                "gridOpacity": {"condition": {"test": "abs(datum.value) < 0.9 && abs(datum.value*2 - round(datum.value*2)) < 0.001", "value": 1}, "value": 0},
                "labelPadding": 6, "titlePadding": 6}},
            "y": {"field": "I", "type": "quantitative", "scale": {"type": "log", "domain": [1e-9, 0.01], "nice": false},
              "axis": {"orient": "left", "title": "I (A)",
                "values": [1e-9,2e-9,3e-9,4e-9,5e-9,6e-9,7e-9,8e-9,9e-9,1e-8,2e-8,3e-8,4e-8,5e-8,6e-8,7e-8,8e-8,9e-8,1e-7,2e-7,3e-7,4e-7,5e-7,6e-7,7e-7,8e-7,9e-7,1e-6,2e-6,3e-6,4e-6,5e-6,6e-6,7e-6,8e-6,9e-6,1e-5,2e-5,3e-5,4e-5,5e-5,6e-5,7e-5,8e-5,9e-5,1e-4,2e-4,3e-4,4e-4,5e-4,6e-4,7e-4,8e-4,9e-4,1e-3,2e-3,3e-3,4e-3,5e-3,6e-3,7e-3,8e-3,9e-3,1e-2],
                "labelExpr": "abs(log(datum.value)/LN10 - round(log(datum.value)/LN10)) < 0.001 && datum.value < 0.005 ? '10' : ''",
                "labelOffset": 1,
                "tickSize": {"condition": {"test": "abs(log(datum.value)/LN10 - round(log(datum.value)/LN10)) < 0.001", "value": -7}, "value": -4},
                "grid": true,
                "gridOpacity": {"condition": {"test": "abs(log(datum.value)/LN10 - round(log(datum.value)/LN10)) < 0.001", "value": 1}, "value": 0},
                "labelPadding": 20, "titlePadding": 21}},
            "color": {"field": "s", "type": "nominal", "scale": {"domain": ["9e14 / 10keV"], "range": ["#0000ff"]},
              "legend": {"title": null, "orient": "none", "legendX": 142, "legendY": 44, "padding": 0, "symbolSize": 60, "labelOffset": 3, "symbolStrokeWidth": 0}},
            "shape": {"field": "s", "type": "nominal", "scale": {"domain": ["9e14 / 10keV"], "range": ["triangle-down"]},
              "legend": {"title": null, "orient": "none", "legendX": 142, "legendY": 44, "padding": 0, "symbolSize": 60, "labelOffset": 3, "symbolStrokeWidth": 0}}
          }
        },
        {
          "data": {"name": "arrow"},
          "mark": {"type": "rule", "color": "#000000", "strokeWidth": 4.5},
          "encoding": {
            "x": {"field": "V", "type": "quantitative", "axis": null},
            "y": {"field": "Itop", "type": "quantitative", "axis": null},
            "y2": {"field": "Ibot"}
          }
        },
        {
          "data": {"name": "arrow"},
          "mark": {"type": "point", "filled": true, "opacity": 1, "color": "#000000", "size": 625, "shape": "M0,-1L1,1L0,0.75L-1,1Z"},
          "encoding": {
            "x": {"field": "V", "type": "quantitative", "axis": null},
            "y": {"field": "Itop", "type": "quantitative", "axis": null}
          }
        },
        {
          "data": {"name": "arrow"},
          "mark": {"type": "point", "filled": true, "opacity": 1, "color": "#000000", "size": 625, "shape": "M0,1L1,-1L0,-0.75L-1,-1Z"},
          "encoding": {
            "x": {"field": "V", "type": "quantitative", "axis": null},
            "y": {"field": "Ibot", "type": "quantitative", "axis": null}
          }
        },
        {
          "data": {"name": "notesB"},
          "mark": {"type": "text", "align": "left", "baseline": "alphabetic", "fontSize": 20},
          "encoding": {
            "x": {"field": "V", "type": "quantitative", "axis": null},
            "y": {"field": "I", "type": "quantitative", "axis": null},
            "text": {"field": "t"}
          }
        },
        {
          "data": {"name": "ratioSub"},
          "mark": {"type": "text", "align": "left", "baseline": "alphabetic", "fontSize": 14},
          "encoding": {
            "x": {"field": "V", "type": "quantitative", "axis": null},
            "y": {"field": "I", "type": "quantitative", "axis": null},
            "text": {"field": "t"}
          }
        },
        {
          "data": {"name": "ratioSup"},
          "mark": {"type": "text", "align": "left", "baseline": "alphabetic", "fontSize": 14},
          "encoding": {
            "x": {"field": "V", "type": "quantitative", "axis": null},
            "y": {"field": "I", "type": "quantitative", "axis": null},
            "text": {"field": "t"}
          }
        }
      ],
      "resolve": {"axis": {"x": "independent", "y": "independent"}}
    }
  ]
}
